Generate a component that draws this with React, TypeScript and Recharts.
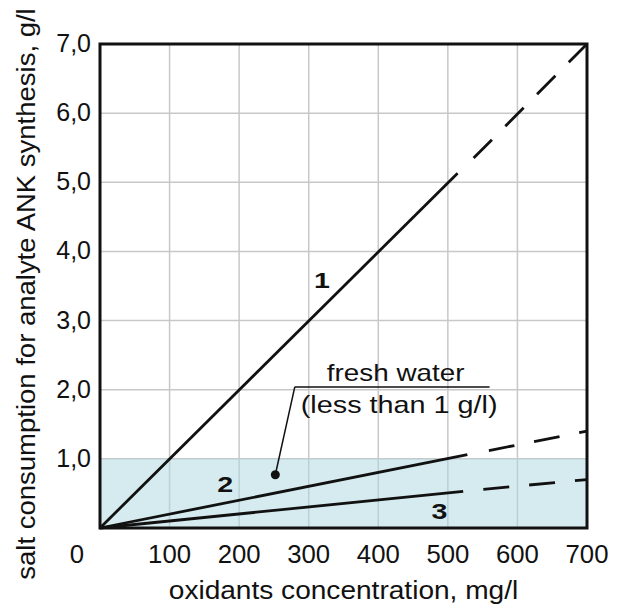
import React from 'react';
import { LineChart, Line, XAxis, YAxis, CartesianGrid, ReferenceArea, ReferenceLine, ReferenceDot, Label } from 'recharts';

// x ticks (mg/l) and y ticks (g/l)
const xTicks = [0, 100, 200, 300, 400, 500, 600, 700];
const yTicks = [1, 2, 3, 4, 5, 6, 7];

// each curve: measured solid part and extrapolated (dashed) part, [x, y] pairs
const curve1Solid = [[0, 0], [514, 5.13]];
const curve1Dashed = [[537, 5.35], [700, 7.0]];
const curve2Solid = [[0, 0], [528, 1.06]];
const curve2Dashed = [[559, 1.12], [700, 1.4]];
const curve3Solid = [[0, 0], [522, 0.53]];
const curve3Dashed = [[551, 0.56], [700, 0.7]];

// curve number labels: [name, x, y(baseline)]
const curveLabels: [string, number, number][] = [['1', 319, 3.47], ['2', 180, 0.52], ['3', 488, 0.13]];

// fresh water band and its callout
const freshWaterLimit = 1;
const calloutDot = { x: 252, y: 0.77 };
const calloutElbow = { x: 280, y: 2.04 };
const calloutEnd = { x: 560, y: 2.04 };
const calloutTitle = { x: 425, y: 2.13, text: 'fresh water' };
const calloutNote = { x: 430, y: 1.66, text: '(less than 1 g/l)' };

const FONT = 'Liberation Sans, Arial, sans-serif';
const toPoints = (arr: number[][]) => arr.map(([x, y]) => ({ x, y }));

// text with a horizontal stretch, the source font is wider than Arial
const SText = ({ x, y, text, size, sx = 1, rotate = 0, bold = false, anchor = 'middle' }: any) => <text transform={`translate(${x},${y}) rotate(${rotate}) scale(${sx},1)`} textAnchor={anchor} fontSize={size} fontFamily={FONT} fontWeight={bold ? 'bold' : 'normal'} fill="#111">
    {text}
  </text>;

const XTick = (props: any) => {
  const { x, y, payload } = props;
  const shift = payload.value === 0 ? -23 : 0;
  return <SText x={x + shift} y={y + 18} text={payload.value} size={25} sx={1.03} />;
};

const YTick = (props: any) => {
  const { x, y, payload } = props;
  return <SText x={x + 1} y={y + 8} text={payload.value.toFixed(1).replace('.', ',')} size={25} anchor="end" />;
};

const App: React.FC = () => {
  const lineProps = {
    dataKey: 'y',
    stroke: '#111',
    strokeWidth: 2.8,
    dot: false,
    activeDot: false,
    isAnimationActive: false,
    type: 'linear' as const
  };
  return <div style={{ position: 'absolute', left: 0, top: 0, background: '#fff' }}>
      <LineChart width={622} height={605} margin={{ top: 44, right: 35, left: 20, bottom: 37 }}>
        <CartesianGrid stroke="#c8c8c8" strokeWidth={1.5} />
        <XAxis dataKey="x" type="number" domain={[0, 700]} ticks={xTicks} axisLine={false} tickLine={false} tickSize={6} tickMargin={11} height={40} tick={<XTick />} allowDuplicatedCategory={false}>
          <Label content={(p: any) => <SText x={p.viewBox.x + p.viewBox.width / 2} y={p.viewBox.y + p.viewBox.height + 31} text="oxidants concentration, mg/l" size={26} sx={1.08} />} />
        </XAxis>
        <YAxis type="number" domain={[0, 7]} ticks={yTicks} axisLine={false} tickLine={false} tickSize={6} tickMargin={4} width={80} tick={<YTick />}>
          <Label content={(p: any) => <SText x={p.viewBox.x + 15} y={p.viewBox.y + p.viewBox.height / 2 + 8} rotate={-90} text="salt consumption for analyte ANK synthesis, g/l" size={25} sx={1.1} />} />
        </YAxis>
        <ReferenceArea x1={0} x2={700} y1={0} y2={freshWaterLimit} fill="#abd7df" fillOpacity={0.5} stroke="none" />
        <Line {...lineProps} data={toPoints(curve1Solid)} />
        <Line {...lineProps} data={toPoints(curve1Dashed)} strokeDasharray="26 19" />
        <Line {...lineProps} data={toPoints(curve2Solid)} />
        <Line {...lineProps} data={toPoints(curve2Dashed)} strokeDasharray="26 20" />
        <Line {...lineProps} data={toPoints(curve3Solid)} />
        <Line {...lineProps} data={toPoints(curve3Dashed)} strokeDasharray="26 20" />
        <ReferenceLine segment={[calloutDot, calloutElbow]} stroke="#111" strokeWidth={1.5} />
        <ReferenceLine segment={[calloutElbow, calloutEnd]} stroke="#111" strokeWidth={1.5} />
        <ReferenceDot x={calloutDot.x} y={calloutDot.y} r={4.5} fill="#111" stroke="none" />
        {[calloutTitle, calloutNote].map((c, i) => <ReferenceDot key={c.text} x={c.x} y={c.y} r={0} fill="none" stroke="none">
            <Label content={(p: any) => <SText x={p.viewBox.x + p.viewBox.width / 2} y={p.viewBox.y + p.viewBox.height / 2} text={c.text} size={24} sx={i === 0 ? 1.16 : 1.2} />} />
          </ReferenceDot>)}
        {curveLabels.map(([name, x, y]) => <ReferenceDot key={name} x={x} y={y} r={0} fill="none" stroke="none">
            <Label content={(p: any) => <SText x={p.viewBox.x + p.viewBox.width / 2} y={p.viewBox.y + p.viewBox.height / 2} text={name} size={22} sx={1.3} bold />} />
          </ReferenceDot>)}
        <ReferenceArea x1={0} x2={700} y1={0} y2={7} fill="none" stroke="#111" strokeWidth={3} />
      </LineChart>
    </div>;
};

export default App;
